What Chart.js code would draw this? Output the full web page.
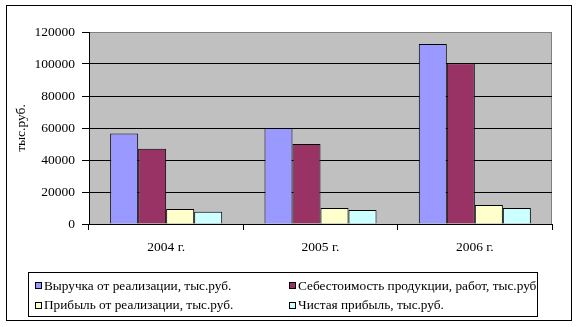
<!DOCTYPE html>
<html>
<head>
<meta charset="utf-8">
<script src="https://cdn.jsdelivr.net/npm/chart.js@4/dist/chart.umd.min.js"></script>
<style>
  body { margin: 0; background: #fff; }
  #wrap { position: relative; width: 577px; height: 327px; }
  #frame { position: absolute; left: 6px; top: 5px; width: 564px; height: 314px; border: 1px solid #000; pointer-events: none; }
  #legend {
    position: absolute; left: 28px; top: 272px; width: 510px; height: 45px; box-sizing: border-box;
    border: 1px solid #000; padding: 3px 0 0 6px;
    font: 13.3px "Liberation Serif", "Times New Roman", serif; color: #000;
    display: grid; grid-template-columns: 254px auto; grid-auto-rows: 19.5px; align-items: center;
  }
  #legend span.item { display: flex; align-items: center; white-space: nowrap; }
  #legend i { display: inline-block; width: 5px; height: 5px; border: 1px solid #000; margin-right: 2px; }
</style>
</head>
<body>
<div id="wrap">
  <canvas id="chart" width="577" height="327"></canvas>
  <div id="frame"></div>
  <div id="legend"></div>
</div>
<script>
const years = ['2004 г.', '2005 г.', '2006 г.'];
const seriesNames = [
  'Выручка от реализации, тыс.руб.',
  'Себестоимость продукции, работ, тыс.руб',
  'Прибыль от реализации, тыс.руб.',
  'Чистая прибыль, тыс.руб.'
];
const revenue = [56500, 60000, 112500];
const cost = [47000, 50000, 100500];
const salesProfit = [9400, 10000, 11900];
const netProfit = [7700, 8800, 10000];
const colors = ['#9999FF', '#993366', '#FFFFCC', '#CCFFFF'];

const values = [revenue, cost, salesProfit, netProfit];

// grey plot area with a thin darker border
const plotBg = {
  id: 'plotBg',
  beforeDraw(chart) {
    const { ctx, chartArea: a } = chart;
    ctx.save();
    ctx.fillStyle = '#C0C0C0';
    ctx.fillRect(a.left, a.top, a.right - a.left, a.bottom - a.top);
    ctx.strokeStyle = '#808080';
    ctx.lineWidth = 1;
    ctx.strokeRect(a.left + 0.5, a.top + 0.5, a.right - a.left - 1, a.bottom - a.top);
    ctx.restore();
  }
};

const serif = { family: '"Liberation Serif", "Times New Roman", serif', size: 13.5 };

new Chart(document.getElementById('chart'), {
  type: 'bar',
  data: {
    labels: years,
    datasets: seriesNames.map((name, i) => ({
      label: name,
      data: values[i],
      backgroundColor: colors[i],
      borderColor: '#000',
      borderWidth: 1,
      categoryPercentage: 0.726,
      barPercentage: 1
    }))
  },
  options: {
    responsive: false,
    animation: false,
    layout: { padding: { top: 32, right: 25, left: 0, bottom: 0 } },
    plugins: { legend: { display: false }, tooltip: { enabled: false } },
    scales: {
      x: {
        grid: { drawOnChartArea: false, color: '#000', tickLength: 6 },
        border: { color: '#000' },
        ticks: { color: '#000', font: serif, padding: 9, maxRotation: 0 },
        afterFit(s) { s.height = 103; }
      },
      y: {
        min: 0, max: 120000,
        grid: {
          color: c => c.tick && c.tick.value === 120000 ? '#808080' : '#000',
          tickColor: '#000', tickLength: 7
        },
        border: { color: '#000' },
        ticks: { stepSize: 20000, color: '#000', font: serif, padding: 7, callback: v => String(v) },
        title: { display: true, text: 'тыс.руб.', color: '#000', font: serif, padding: { top: 13 } },
        afterFit(s) { s.width = 89; }
      }
    }
  },
  plugins: [plotBg]
});

// two-column legend below the plot
const legend = document.getElementById('legend');
seriesNames.forEach((name, i) => {
  const item = document.createElement('span');
  item.className = 'item';
  const sw = document.createElement('i');
  sw.style.background = colors[i];
  item.appendChild(sw);
  item.appendChild(document.createTextNode(name));
  legend.appendChild(item);
});
</script>
</body>
</html>
